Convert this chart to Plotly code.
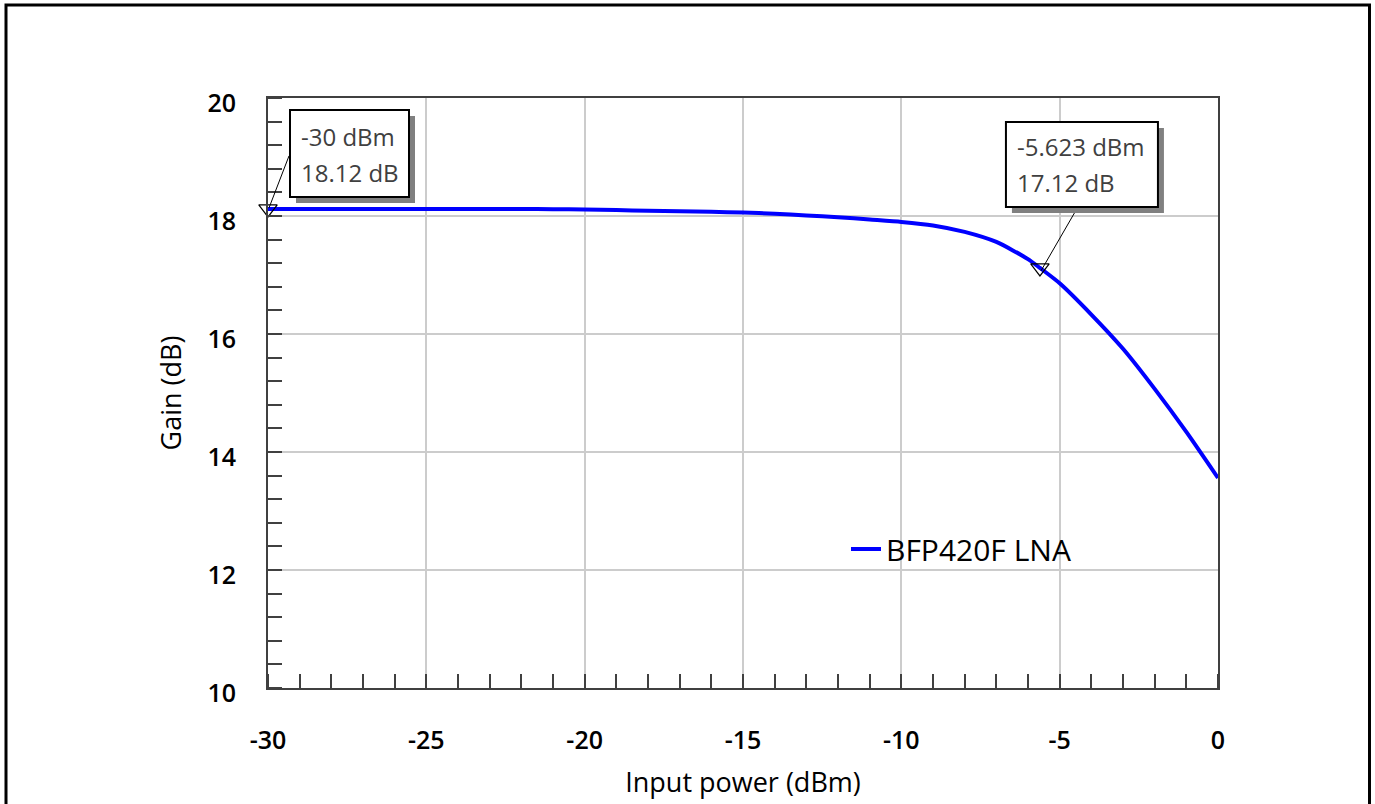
import plotly.graph_objects as go

# ---- data ----
input_power = [-30, -29, -28, -27, -26, -25, -24, -23, -22, -21, -20, -19, -18, -17, -16,
               -15, -14, -13, -12, -11, -10, -9, -8, -7, -6, -5.623, -5, -4, -3, -2, -1, 0]
gain = [18.12, 18.12, 18.12, 18.12, 18.12, 18.12, 18.12, 18.12, 18.12, 18.115, 18.11, 18.10,
        18.09, 18.08, 18.07, 18.06, 18.04, 18.01, 17.98, 17.94, 17.90, 17.84, 17.73, 17.56,
        17.27, 17.12, 16.86, 16.33, 15.75, 15.07, 14.34, 13.56]
series_name = "BFP420F LNA"
marker_x = [-30, -5.623]
marker_y = [18.12, 17.12]
marker_labels = [["-30 dBm", "18.12 dB"], ["-5.623 dBm", "17.12 dB"]]
x_ticks = [-30, -25, -20, -15, -10, -5, 0]
y_ticks = [10, 12, 14, 16, 18, 20]

W, H = 1375, 804
ML, MR, MT, MB = 268, 157, 98, 116
PW, PH = W - ML - MR, H - MT - MB

def px_x(p):
    return (p - ML) / PW

def px_y(p):
    return (H - MB - p) / PH

FONT = "Open Sans"
AX = "#404040"

fig = go.Figure()
fig.add_trace(go.Scatter(x=input_power, y=gain, mode="lines", name=series_name,
                         line=dict(color="#0000ff", width=4, shape="spline", smoothing=0.6),
                         hoverinfo="skip"))
fig.add_trace(go.Scatter(x=marker_x, y=marker_y, mode="markers", showlegend=False,
                         cliponaxis=False,
                         marker=dict(symbol="triangle-down-open", size=16, color="black",
                                     line=dict(width=1.2, color="black")),
                         hoverinfo="skip"))

shapes = []
annotations = []
box_specs = [
    dict(bx=(22, 141), by=(12, 99), ls=(21, 53), le=(1, 1), tx=31, ty=(72.5, 36.5)),
    dict(bx=(-34, 118), by=(61, 146), ls=(38, 61), le=(1, -3), tx=-25, ty=(121.5, 85.5)),
]
for (mx, my), spec, labels in zip(zip(marker_x, marker_y), box_specs, marker_labels):
    common = dict(xref="x", yref="y", xsizemode="pixel", ysizemode="pixel",
                  xanchor=mx, yanchor=my)
    shapes.append(dict(type="line", x0=spec["ls"][0], y0=spec["ls"][1],
                       x1=spec["le"][0], y1=spec["le"][1],
                       line=dict(color="black", width=1), layer="above", **common))
    shapes.append(dict(type="rect", x0=spec["bx"][0] + 6, x1=spec["bx"][1] + 6,
                       y0=spec["by"][0] - 6, y1=spec["by"][1] - 6,
                       fillcolor="#808080", line=dict(width=0), layer="above", **common))
    shapes.append(dict(type="rect", x0=spec["bx"][0], x1=spec["bx"][1],
                       y0=spec["by"][0], y1=spec["by"][1],
                       fillcolor="white", line=dict(color="black", width=2),
                       layer="above", **common))
    for lbl, dy in zip(labels, spec["ty"]):
        annotations.append(dict(x=mx, y=my, xref="x", yref="y", text=lbl,
                                showarrow=False, xanchor="left", yanchor="middle",
                                xshift=spec["tx"], yshift=dy,
                                font=dict(family=FONT, size=24, color="#404040")))

# legend background
shapes.append(dict(type="rect", xref="paper", yref="paper",
                   x0=px_x(728), x1=px_x(1167), y0=px_y(623), y1=px_y(517),
                   fillcolor="white", line=dict(width=0), layer="between"))
# outer frame
shapes.append(dict(type="rect", xref="paper", yref="paper",
                   x0=px_x(6), x1=px_x(1369.5), y0=px_y(812), y1=px_y(5),
                   fillcolor="rgba(0,0,0,0)", line=dict(color="black", width=3),
                   layer="above"))

axis_common = dict(showline=True, mirror=True, linecolor=AX, linewidth=2,
                   showgrid=True, gridcolor="#cccccc", gridwidth=2, zeroline=False,
                   ticks="", tickfont=dict(family=FONT, size=25, color="black", weight=600),
                   title_font=dict(family=FONT, size=27, color="black"))

fig.update_layout(
    width=W, height=H,
    margin=dict(l=ML, r=MR, t=MT, b=MB, autoexpand=False),
    paper_bgcolor="white", plot_bgcolor="white",
    font=dict(family=FONT),
    xaxis=dict(range=[-30, 0], tickvals=x_ticks, ticktext=[str(v) for v in x_ticks],
               title=dict(text="Input power (dBm)", standoff=18),
               ticklabelstandoff=29,
               minor=dict(dtick=1, ticks="inside", ticklen=14, tickwidth=2,
                          tickcolor=AX, showgrid=False),
               **axis_common),
    yaxis=dict(range=[10, 20], tickvals=y_ticks, ticktext=[str(v) for v in y_ticks],
               title=dict(text="Gain (dB)", standoff=18),
               ticklabelstandoff=25, ticklabelshift=5,
               minor=dict(dtick=0.4, tick0=10, ticks="inside", ticklen=14, tickwidth=2,
                          tickcolor=AX, showgrid=False),
               **axis_common),
    legend=dict(x=px_x(846), y=px_y(549), xanchor="left", yanchor="middle",
                bgcolor="rgba(0,0,0,0)", font=dict(family=FONT, size=30, color="black")),
    shapes=shapes, annotations=annotations,
)
fig.write_html("out.html")
